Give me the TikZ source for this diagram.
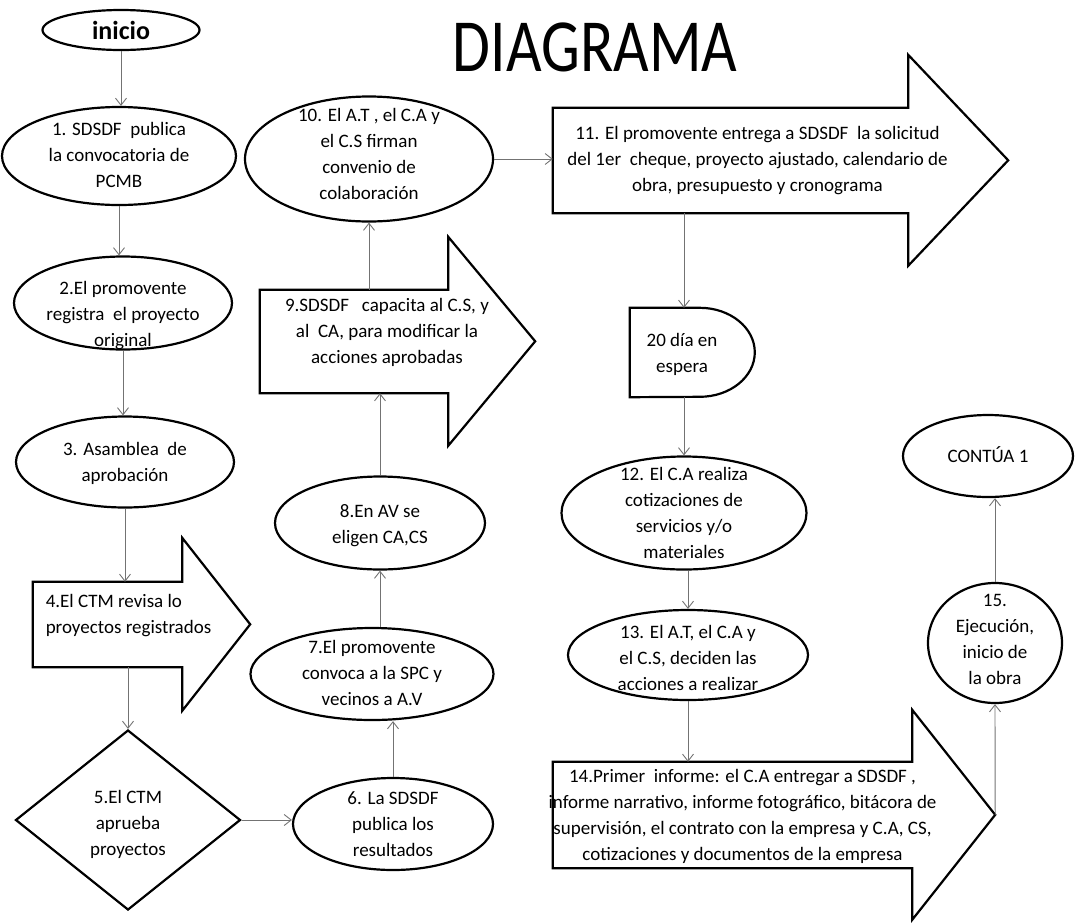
\documentclass[tikz,border=0pt]{standalone}
\usepackage{fontspec}
\setmainfont{Carlito}
\usepackage{graphicx}
\usetikzlibrary{shapes.geometric,arrows.meta}
% text block of zero size: [align]{xshift}{yshift down}{lines}
\newcommand\tx[4][c]{\makebox[0pt]{\hspace*{#2}\hspace*{#2}\raisebox{-#3}[0pt][0pt]{\raisebox{-4pt}{\begin{tabular}[c]{@{}#1@{}}#4\end{tabular}}}}}
\begin{document}
\begin{tikzpicture}[x=1pt,y=-1pt,
  outl/.style={draw=black, line width=2.2pt, line join=miter},
  conn/.style={draw=black!55, line width=0.9pt, -{Straight Barb[length=7pt,width=11pt]}},
  txt/.style={font=\fontsize{19}{26}\selectfont},
  ell/.style={ellipse, outl, inner sep=0pt, txt},
  body/.style={rectangle, draw=none, inner sep=0pt, txt}]
\useasboundingbox (0,0) rectangle (1077,922);

\node[inner sep=0pt, font=\fontsize{75}{80}\selectfont] (title) at (595,47) {\scalebox{0.82}[1]{DIAGRAMA}};

\node[ell, minimum width=157pt, minimum height=40pt, font=\bfseries\fontsize{26}{28}\selectfont] (inicio) at (121,30) {\tx{0pt}{6pt}{inicio}};
\node[ell, minimum width=234pt, minimum height=98pt] (n1) at (119,156) {\tx{0pt}{1pt}{1. SDSDF\ \ publica\\la convocatoria de\\PCMB}};
\node[ell, minimum width=218pt, minimum height=93pt] (n2) at (123,303) {\tx{0pt}{13pt}{2.El promovente\\registra\ \ el proyecto\\original}};
\node[ell, minimum width=218pt, minimum height=91pt] (n3) at (125,462) {\tx{0pt}{2pt}{3. Asamblea\ \ de\\aprobación}};

\node[body, minimum width=149pt, minimum height=85pt] (n4) at (107.5,624.5) {\tx[l]{21pt}{-9pt}{4.El CTM revisa lo\\proyectos registrados}};
\draw[outl] (n4.north west) -- (n4.north east) -- ++(0,-44) -- ++(68,86.5) -- ++(-68,86.5) -- (n4.south east) -- (n4.south west) -- cycle;

\node[diamond, outl, inner sep=0pt, txt, minimum width=225pt, minimum height=180pt] (n5) at (128,820) {\tx{0pt}{5pt}{5.El CTM\\aprueba\\proyectos}};
\node[ell, minimum width=200pt, minimum height=92pt] (n6) at (393,824) {\tx{0pt}{2pt}{6. La SDSDF\\publica los\\resultados}};
\node[ell, minimum width=243pt, minimum height=92pt] (n7) at (372,674) {\tx{0pt}{1pt}{7.El promovente\\convoca a la SPC y\\vecinos a A.V}};
\node[ell, minimum width=210pt, minimum height=93pt] (n8) at (380,523) {\tx{0pt}{3pt}{8.En AV se\\eligen CA,CS}};

\node[body, minimum width=188pt, minimum height=103pt] (n9) at (354,341.5) {\tx{33pt}{-9pt}{9.SDSDF\ \ \ capacita al C.S, y\\al\ \ CA, para modificar la\\acciones aprobadas}};
\draw[outl] (n9.north west) -- (n9.north east) -- ++(0,-53) -- ++(87,104.5) -- ++(-87,104.5) -- (n9.south east) -- (n9.south west) -- cycle;

\node[ell, minimum width=248pt, minimum height=125pt] (n10) at (369,159) {\tx{0pt}{-3pt}{10. El A.T , el C.A y\\el C.S firman\\convenio de\\colaboración}};

\node[body, minimum width=355pt, minimum height=105pt] (n11) at (730.5,160.5) {\tx{27pt}{0pt}{11. El promovente entrega a SDSDF\ \ la solicitud\\del 1er\ \ cheque, proyecto ajustado, calendario de\\obra, presupuesto y cronograma}};
\draw[outl] (n11.north west) -- (n11.north east) -- ++(0,-53) -- ++(100,105.5) -- ++(-100,105.5) -- (n11.south east) -- (n11.south west) -- cycle;

\node[body, minimum width=108pt, minimum height=89pt] (n20) at (684,352.5) {\tx{-2pt}{2pt}{20 día en\\espera}};
\draw[outl] (n20.north west) -- ++(70,0) arc[start angle=-90, end angle=90, x radius=55, y radius=44.5] -- (n20.south west) -- cycle;

\node[ell, minimum width=245pt, minimum height=113pt] (n12) at (684,513) {\tx{0pt}{2pt}{12. El C.A realiza\\cotizaciones de\\servicios y/o\\materiales}};
\node[ell, minimum width=240pt, minimum height=90pt] (n13) at (688,655) {\tx{0pt}{5pt}{13. El A.T, el C.A y\\el C.S, deciden las\\acciones a realizar}};

\node[body, minimum width=359pt, minimum height=106pt] (n14) at (732.5,815) {\tx{10pt}{2pt}{14.Primer\ \ informe: el C.A entregar a SDSDF\ ,\\informe narrativo, informe fotográfico, bitácora de\\supervisión, el contrato con la empresa y C.A, CS,\\cotizaciones y documentos de la empresa}};
\draw[outl] (n14.north west) -- (n14.north east) -- ++(0,-52) -- ++(83,105) -- ++(-83,105) -- (n14.south east) -- (n14.south west) -- cycle;
\path (n14.east) ++(83,0) coordinate (n14tip);

\node[ell, minimum width=134pt, minimum height=120pt] (n15) at (995,643) {\tx{0pt}{-2pt}{15.\\Ejecución,\\inicio de\\la obra}};
\node[ell, minimum width=170pt, minimum height=82pt] (contua) at (988,456) {\tx{0pt}{2pt}{CONTÚA 1}};

\draw[conn] (inicio.south) -- (inicio.south |- n1.north);
\draw[conn] (n1.south) -- (n1.south |- n2.north);
\draw[conn] (n2.south) -- (n2.south |- n3.north);
\draw[conn] (n3.south) -- (n3.south |- n4.north);
\draw[conn] (n5.north |- n4.south) -- (n5.north);
\draw[conn] (n5.east) -- (n5.east -| n6.west);
\draw[conn] (n6.north) -- (n6.north |- n7.south);
\draw[conn] (n8.south |- n7.north) -- (n8.south);
\draw[conn] (n8.north) -- (n8.north |- n9.south);
\draw[conn] (n10.south |- n9.north) -- (n10.south);
\draw[conn] (n10.east) -- (n10.east -| n11.west);
\draw[conn] (n11.south -| n20.north) -- (n20.north);
\draw[conn] (n20.south) -- (n12.north);
\draw[conn] (n13.north |- n12.south) -- (n13.north);
\draw[conn] (n13.south) -- (n13.south |- n14.north);
\draw[conn] (n14tip) -- (n15.south);
\draw[conn] (n15.north) -- (n15.north |- contua.south);
\end{tikzpicture}
\end{document}
